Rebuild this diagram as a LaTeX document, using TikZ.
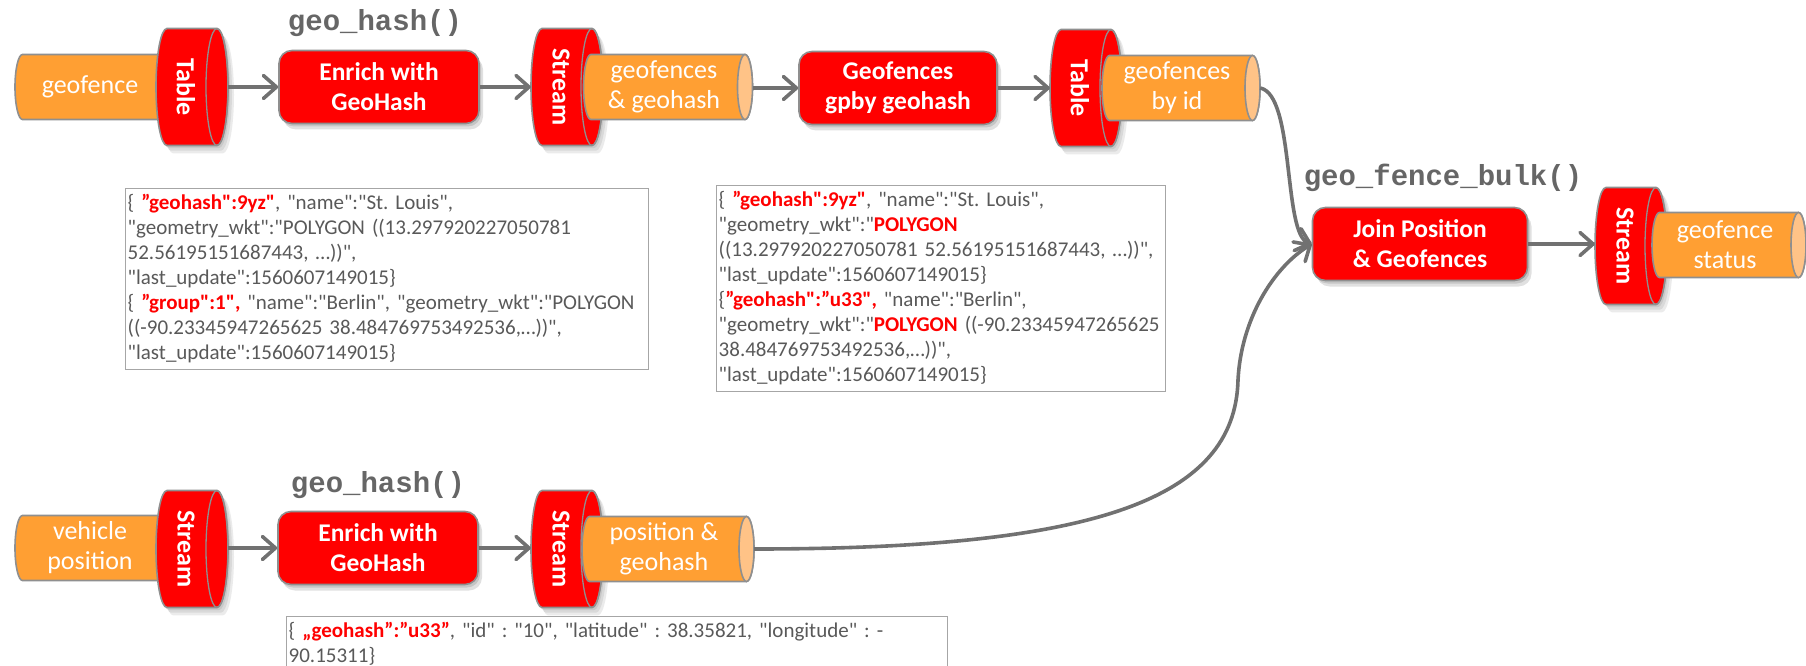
\documentclass[tikz,border=0pt]{standalone}
\usepackage{fontspec}
\setmainfont{Carlito}
\newfontfamily\jsonfont{Carlito}
\newfontfamily\codefont{Liberation Mono}
\usetikzlibrary{arrows.meta,shadows}

\definecolor{kred}{HTML}{FF0000}
\definecolor{korange}{HTML}{FF9F33}
\definecolor{kpeach}{HTML}{FFC387}
\definecolor{kedge}{HTML}{8F8F8F}
\definecolor{karrow}{HTML}{717171}
\definecolor{ktext}{HTML}{595959}
\definecolor{kcode}{HTML}{666666}
\definecolor{kframe}{HTML}{A6A6A6}

\newcommand\hlred[1]{{\color{kred}\bfseries #1}}

\tikzset{
  procbox/.style={rectangle, rounded corners=13pt, fill=kred, draw=kedge, line width=1.6pt,
    text=white, align=center, inner sep=0pt, minimum width=200pt, minimum height=73pt,
    font=\fontsize{25.5}{30}\selectfont\bfseries,
    drop shadow={shadow xshift=2pt, shadow yshift=-3pt, opacity=0.12, fill=black},
    drop shadow={shadow xshift=4pt, shadow yshift=-6pt, opacity=0.12, fill=black}},
  shapebox/.style={rectangle, inner sep=0pt},
  drumtext/.style={text=white, inner sep=0pt, font=\fontsize{26}{30}\selectfont\bfseries},
  topictext/.style={text=white, align=center, inner sep=0pt, font=\fontsize{26}{30}\selectfont},
  shapeline/.style={draw=kedge, line width=1.6pt},
  flow/.style={draw=karrow, line width=3.6pt,
    -{Straight Barb[length=13pt, width=23pt, round]}},
  json/.style={rectangle, draw=kframe, line width=1.4pt, fill=white, anchor=north west,
    text=ktext, align=left, inner xsep=2pt, inner ysep=3pt,
    font=\jsonfont\fontsize{21}{25}\selectfont\frenchspacing},
  fname/.style={text=kcode, font=\codefont\fontsize{29}{34}\selectfont\bfseries},
}

% red drum (short horizontal cylinder): name, x, y, label
\newcommand\drumat[4]{%
  \begin{scope}[shift={(#2,#3)}]
    \foreach \s in {2,4,6}{%
      \fill[black, opacity=0.08, shift={(\s,1.3*\s)}]
        (-25,-58.5) -- (25,-58.5)
        arc[start angle=-90, end angle=90, x radius=11, y radius=58.5]
        -- (-25,58.5)
        arc[start angle=90, end angle=270, x radius=11, y radius=58.5] -- cycle;}
    \filldraw[fill=kred, shapeline]
      (-25,-58.5) -- (25,-58.5)
      arc[start angle=-90, end angle=90, x radius=11, y radius=58.5]
      -- (-25,58.5)
      arc[start angle=90, end angle=270, x radius=11, y radius=58.5] -- cycle;
    \draw[shapeline, line width=1.3pt] (25,0) ellipse [x radius=11, y radius=58.5];
  \end{scope}
  \node[shapebox, minimum width=72pt, minimum height=117pt] (#1) at (#2,#3) {};
  \node[drumtext] (#1-text) at ({#2-6},#3) {\rotatebox{-90}{#4}};
}

% orange topic cylinder: name, x, y, length, label
\newcommand\topicat[5]{%
  \begin{scope}[shift={(#2,#3)}]
    \filldraw[fill=korange, shapeline]
      ({-#4/2+7.5},-32.5) -- ({#4/2-7.5},-32.5)
      arc[start angle=-90, end angle=90, x radius=7.5, y radius=32.5]
      -- ({-#4/2+7.5},32.5)
      arc[start angle=90, end angle=270, x radius=7.5, y radius=32.5] -- cycle;
    \filldraw[fill=kpeach, shapeline] ({#4/2-7.5},0) ellipse [x radius=7.5, y radius=32.5];
  \end{scope}
  \node[shapebox, minimum width=#4pt, minimum height=65pt] (#1) at (#2,#3) {};
  \node[topictext] (#1-text) at ({#2-4},#3) {#5};
}

\begin{document}
\begin{tikzpicture}[x=1pt, y=-1pt]
\useasboundingbox (0,0) rectangle (1806,666);
\clip (0,0) rectangle (1806,666);

% ---- geofence pipeline ----
\topicat{gf}{94}{87}{158}{geofence}
\drumat{tb1}{192}{87}{Table}
\node[fname] (fn1) at (375,23) {geo\_hash()};
\node[procbox] (en1) at (379,87) {Enrich with\\GeoHash};
\drumat{st1}{567}{87}{Stream}
\topicat{gg}{668}{87}{169}{geofences\\\& geohash}
\node[procbox, minimum width=198pt] (gb) at (898,88) {Geofences\\gpby geohash};
\drumat{tb2}{1086}{88}{Table}
\topicat{gbi}{1181}{88}{158}{geofences\\by id}

% ---- join ----
\node[fname] (fn3) at (1443,178) {geo\_fence\_bulk()};
\node[procbox, minimum width=215pt] (jn) at (1420,244) {Join Position\\\& Geofences};
\drumat{st3}{1631}{246}{Stream}
\topicat{gs}{1729}{245}{154}{geofence\\status}

% ---- vehicle position pipeline ----
\topicat{vp}{94}{548}{158}{vehicle\\position}
\drumat{st4}{192}{549}{Stream}
\node[fname] (fn2) at (378,485) {geo\_hash()};
\node[procbox] (en2) at (378,548) {Enrich with\\GeoHash};
\drumat{st5}{567}{549}{Stream}
\topicat{pg}{668}{549}{172}{position \&\\geohash}

% ---- sample records ----
\node[json, text width=519pt] (js1) at (125,188) {\noindent\begin{tabular}{@{}l@{}}
\{ \hlred{”geohash":9yz"}, "name":"St. Louis",\\
"geometry\_wkt":"POLYGON ((13.297920227050781\\
52.56195151687443, …))",\\
"last\_update":1560607149015\}\\
\{ \hlred{”group":1",} "name":"Berlin", "geometry\_wkt":"POLYGON\\
((-90.23345947265625 38.484769753492536,…))",\\
"last\_update":1560607149015\}
\end{tabular}};

\node[json, text width=445pt] (js2) at (716,185) {\noindent\begin{tabular}{@{}l@{}}
\{ \hlred{”geohash":9yz"}, "name":"St. Louis",\\
"geometry\_wkt":"\hlred{POLYGON}\\
((13.297920227050781 52.56195151687443, …))",\\
"last\_update":1560607149015\}\\
\{\hlred{”geohash":”u33",} "name":"Berlin",\\
"geometry\_wkt":"\hlred{POLYGON} ((-90.23345947265625\\
38.484769753492536,…))",\\
"last\_update":1560607149015\}
\end{tabular}};

\node[json, text width=657pt] (js3) at (286,616) {\noindent\begin{tabular}{@{}l@{}}
\{ \hlred{„geohash”:”u33”}, "id" : "10", "latitude" : 38.35821, "longitude" : -\\
90.15311\}\\
\\
\end{tabular}};

% ---- connectors ----
\draw[flow] (tb1.east |- en1.west) -- (en1.west);
\draw[flow] (en1.east) -- (en1.east -| st1.west);
\draw[flow] (gg.east |- gb.west) -- (gb.west);
\draw[flow] (gb.east) -- (gb.east -| tb2.west);
\draw[flow] (jn.east) -- (jn.east -| st3.west);
\draw[flow] (st4.east |- en2.west) -- (en2.west);
\draw[flow] (en2.east) -- (en2.east -| st5.west);

\draw[flow] (gbi.east) .. controls +(35,7) and +(-29,-9) .. (jn.west);
\coordinate (rise) at (1238,380);
\draw[flow] (pg.east) .. controls +(340,0) and +(-3,120) .. (rise)
  .. controls +(3,-60) and +(-39,24) .. (jn.west);
\end{tikzpicture}
\end{document}
